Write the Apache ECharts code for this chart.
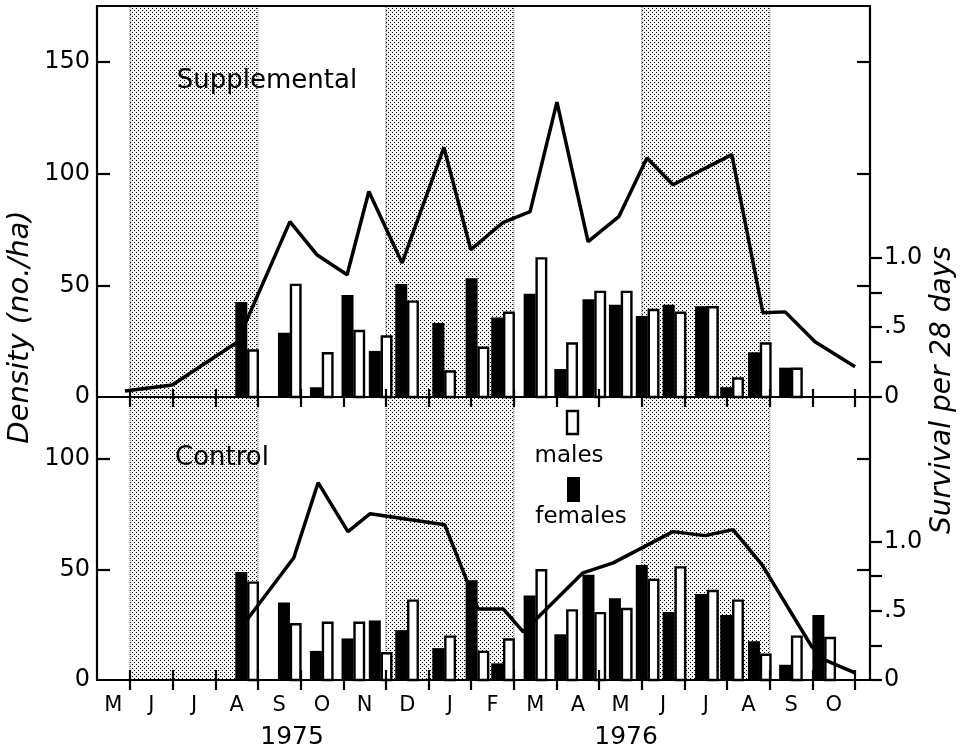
<!DOCTYPE html>
<html><head><meta charset="utf-8">
<script src="https://cdn.jsdelivr.net/npm/echarts@6/dist/echarts.min.js"></script>
<style>html,body{margin:0;padding:0;background:#fff}#c{width:966px;height:753px}</style>
</head><body><div id="c"></div>
<script>
// x values: months counted from 1 May 1975 (1 = 1 Jun 1975, 13 = 1 Jun 1976)
const monthLabels = ['M','J','J','A','S','O','N','D','J','F','M','A','M','J','J','A','S','O'];
const monthLabelPos = [0.61,1.5,2.5,3.5,4.5,5.5,6.5,7.5,8.5,9.5,10.5,11.5,12.5,13.5,14.5,15.5,16.5,17.5];
const monthTicks = [1,2,3,4,5,6,7,8,9,10,11,12,13,14,15,16,17,18];
const yearLabels = ['1975','1976'];
const yearPos = [4.8, 12.63];
const shadedSeasons = [[1,4],[7,10],[13,16]];
const xMin = 0.226, xMax = 18.35;

// Density line, Supplemental grid
const suppLineX = [0.88,1.99,3.51,4.75,5.38,6.09,6.60,7.38,8.36,8.99,9.74,10.38,11.01,11.74,12.46,13.12,13.73,15.11,15.84,16.36,17.06,18.0];
const suppLineY = [2.7,5.4,24.5,78.5,63.7,54.7,92,60,111.7,66,78,83,132,69.5,80.7,107,95,108.5,37.7,38.1,24.7,13.5];
// Density line, Control grid
const ctrlLineX = [3.74,4.84,5.41,6.11,6.63,8.38,9.16,9.75,10.22,11.62,12.33,13.73,14.48,15.14,15.82,16.99,17.3,18.0];
const ctrlLineY = [27.1,55.2,89.1,67,75.1,70.1,32.1,32.1,21.7,48.4,52.9,67,65.2,67.9,52,14.9,9.0,3.2];

// Survival per 28 days (trapping periods)
const survX = [3.75,4.75,5.5,6.24,6.88,7.5,8.37,9.15,9.75,10.51,11.23,11.89,12.51,13.14,13.77,14.53,15.12,15.77,16.5,17.28];
const suppFemales = [0.68,0.46,0.07,0.73,0.33,0.81,0.53,0.85,0.57,0.74,0.20,0.70,0.66,0.58,0.66,0.65,0.07,0.32,0.21];
const suppMales   = [0.34,0.81,0.32,0.48,0.44,0.69,0.19,0.36,0.61,1.00,0.39,0.76,0.76,0.63,0.61,0.65,0.14,0.39,0.21];
const ctrlFemales = [0.78,0.56,0.21,0.30,0.43,0.36,0.23,0.72,0.12,0.61,0.33,0.76,0.59,0.83,0.49,0.62,0.47,0.28,0.11,0.47];
const ctrlMales   = [0.71,0.41,0.42,0.42,0.20,0.58,0.32,0.21,0.30,0.80,0.51,0.49,0.52,0.73,0.82,0.65,0.58,0.19,0.32,0.31];

const densityLabelsTop = [0,50,100,150];
const densityTicksTop = [50,100,150];
const densityLabelsBottom = [0,50,100];
const densityTicksBottom = [50,100];
const survivalTicks = [0,0.25,0.5,0.75,1];
const survivalLabelVals = [0,0.5,1];
const survivalLabelText = ['0','.5','1.0'];

const FONT = 'DejaVu Sans';
const pat = document.createElement('canvas');
pat.width = 4; pat.height = 4;
const pc = pat.getContext('2d');
pc.fillStyle = '#f2f2f2'; pc.fillRect(0,0,4,4);
pc.fillStyle = '#000'; pc.fillRect(0,0,1,1); pc.fillRect(2,2,1,1);

const black = '#000';
const lineW = {color: black, width: 2.2};

function xAxisBase(grid, extra) {
  return Object.assign({type:'value', gridIndex:grid, min:xMin, max:xMax, splitLine:{show:false}, z:10,
    axisLine:{show:false, onZero:false, lineStyle:lineW}, axisTick:{show:false}, axisLabel:{show:false}}, extra);
}
function yAxisBase(grid, pos, max, extra) {
  return Object.assign({type:'value', gridIndex:grid, position:pos, min:0, max:max, splitLine:{show:false}, z:10,
    axisLine:{show:false, onZero:false, lineStyle:lineW}, axisTick:{show:false}, axisLabel:{show:false}}, extra);
}
const survFmt = v => { const i = survivalLabelVals.findIndex(s => Math.abs(s - v) < 1e-6); return i >= 0 ? survivalLabelText[i] : ''; };

function femaleBars(xi, yi, vals) {
  return {type:'custom', name:'females', xAxisIndex:xi, yAxisIndex:yi, z:3,
    data: vals.map((v,i)=>[survX[i], v]),
    renderItem: (p, api) => {
      const b = api.coord([api.value(0), 0]), t = api.coord([api.value(0), api.value(1)]);
      return {type:'rect', shape:{x:b[0]-12, y:t[1], width:12, height:b[1]-t[1]}, style:{fill:black}};
    }};
}
function maleBars(xi, yi, vals) {
  return {type:'custom', name:'males', xAxisIndex:xi, yAxisIndex:yi, z:3,
    data: vals.map((v,i)=>[survX[i], v]),
    renderItem: (p, api) => {
      const b = api.coord([api.value(0), 0]), t = api.coord([api.value(0), api.value(1)]);
      return {type:'rect', shape:{x:b[0]+1, y:t[1]+1, width:9.5, height:Math.max(0,b[1]-t[1]-1)}, style:{fill:'#fff', stroke:black, lineWidth:2.4}};
    }};
}
const shade = {silent:true, z:1, itemStyle:{color:{image:pat, repeat:'repeat'}, borderColor:'#555', borderWidth:1, borderType:'dotted'}, label:{show:false},
  data: shadedSeasons.map(s => [{xAxis:s[0]}, {xAxis:s[1]}])};

const chart = echarts.init(document.getElementById('c'), null, {renderer:'canvas'});
chart.setOption({
  animation:false,
  backgroundColor:'#fff',
  textStyle:{fontFamily:FONT},
  grid:[{left:97, top:6, width:773, height:391}, {left:97, top:397, width:773, height:283}],
  xAxis:[
    xAxisBase(0, {position:'bottom', axisLine:{show:true, onZero:false, lineStyle:lineW}, axisTick:{show:true, customValues:monthTicks, inside:false, length:10, lineStyle:lineW}}),
    xAxisBase(0, {position:'bottom', axisTick:{show:true, customValues:monthTicks, inside:true, length:8, lineStyle:lineW}}),
    xAxisBase(0, {position:'top', axisLine:{show:true, onZero:false, lineStyle:lineW}}),
    xAxisBase(1, {position:'bottom', axisLine:{show:true, onZero:false, lineStyle:lineW}, axisTick:{show:true, customValues:monthTicks, inside:false, length:10, lineStyle:lineW},
      axisLabel:{show:true, customValues:monthLabelPos, margin:15, color:black, fontSize:21, fontFamily:FONT,
        formatter: v => monthLabels[Math.min(monthLabels.length-1, Math.floor(v))]}}),
    xAxisBase(1, {position:'bottom', axisTick:{show:true, customValues:monthTicks, inside:true, length:10, lineStyle:lineW}}),
    xAxisBase(1, {position:'bottom', axisLabel:{show:true, customValues:yearPos, margin:45, color:black, fontSize:25, fontFamily:FONT,
        formatter: v => yearLabels[yearPos.findIndex(p => Math.abs(p - v) < 1e-6)] || ''}})
  ],
  yAxis:[
    yAxisBase(0, 'left', 175, {axisLine:{show:true, onZero:false, lineStyle:lineW}, axisTick:{show:true, customValues:densityTicksTop, inside:true, length:13, lineStyle:lineW},
      axisLabel:{show:true, customValues:densityLabelsTop, margin:7, color:black, fontSize:24, fontFamily:FONT}}),
    yAxisBase(0, 'right', 175, {axisLine:{show:true, onZero:false, lineStyle:lineW}, axisTick:{show:true, customValues:densityTicksTop, inside:true, length:13, lineStyle:lineW}}),
    yAxisBase(0, 'right', 2.8, {axisTick:{show:true, customValues:survivalTicks, inside:false, length:12, lineStyle:lineW},
      axisLabel:{show:true, customValues:survivalLabelVals, margin:14, color:black, fontSize:24, fontFamily:FONT, formatter:survFmt}}),
    yAxisBase(1, 'left', 127.8, {axisLine:{show:true, onZero:false, lineStyle:lineW}, axisTick:{show:true, customValues:densityTicksBottom, inside:true, length:13, lineStyle:lineW},
      axisLabel:{show:true, customValues:densityLabelsBottom, margin:7, color:black, fontSize:24, fontFamily:FONT}}),
    yAxisBase(1, 'right', 127.8, {axisLine:{show:true, onZero:false, lineStyle:lineW}, axisTick:{show:true, customValues:densityTicksBottom, inside:true, length:13, lineStyle:lineW}}),
    yAxisBase(1, 'right', 2.043, {axisTick:{show:true, customValues:survivalTicks, inside:false, length:12, lineStyle:lineW},
      axisLabel:{show:true, customValues:survivalLabelVals, margin:14, color:black, fontSize:24, fontFamily:FONT, formatter:survFmt}})
  ],
  series:[
    {type:'line', name:'Supplemental density', xAxisIndex:0, yAxisIndex:0, z:4, showSymbol:false, symbol:'none',
      lineStyle:{color:black, width:3.5}, data: suppLineX.map((x,i)=>[x, suppLineY[i]]), markArea: shade},
    femaleBars(0, 2, suppFemales),
    maleBars(0, 2, suppMales),
    {type:'line', name:'Control density', xAxisIndex:3, yAxisIndex:3, z:4, showSymbol:false, symbol:'none',
      lineStyle:{color:black, width:3.5}, data: ctrlLineX.map((x,i)=>[x, ctrlLineY[i]]), markArea: shade},
    femaleBars(3, 5, ctrlFemales),
    maleBars(3, 5, ctrlMales)
  ],
  graphic:[
    {type:'text', z:20, style:{x:267, y:81, text:'Supplemental', fill:black, font:'26px "DejaVu Sans"', textAlign:'center', textVerticalAlign:'middle'}},
    {type:'text', z:20, style:{x:222, y:458, text:'Control', fill:black, font:'26px "DejaVu Sans"', textAlign:'center', textVerticalAlign:'middle'}},
    {type:'rect', z:20, shape:{x:567, y:411, width:11, height:23}, style:{fill:'#fff', stroke:black, lineWidth:2.4}},
    {type:'text', z:20, style:{x:569, y:456, text:'males', fill:black, font:'23px "DejaVu Sans"', textAlign:'center', textVerticalAlign:'middle'}},
    {type:'rect', z:20, shape:{x:567, y:477, width:13, height:25}, style:{fill:black}},
    {type:'text', z:20, style:{x:581, y:517, text:'females', fill:black, font:'23px "DejaVu Sans"', textAlign:'center', textVerticalAlign:'middle'}},
    {type:'text', z:20, x:20, y:327, rotation:Math.PI/2, style:{x:0, y:0, text:'Density (no./ha)', fill:black, font:'italic 29px "DejaVu Sans"', textAlign:'center', textVerticalAlign:'middle'}},
    {type:'text', z:20, x:943, y:390, rotation:Math.PI/2, style:{x:0, y:0, text:'Survival per 28 days', fill:black, font:'italic 28px "DejaVu Sans"', textAlign:'center', textVerticalAlign:'middle'}}
  ]
});
</script></body></html>
